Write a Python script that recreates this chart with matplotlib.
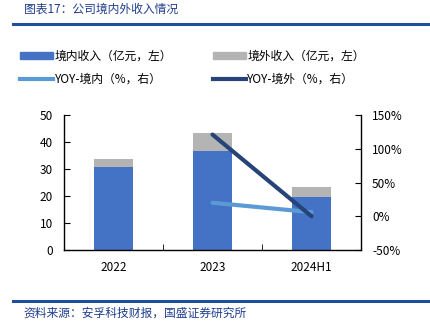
import matplotlib
matplotlib.use("Agg")
import matplotlib.pyplot as plt
from matplotlib.patches import Patch
from matplotlib.lines import Line2D

plt.rcParams['font.family'] = ['Noto Sans CJK SC', 'DejaVu Sans']

categories = ["2022", "2023", "2024H1"]
domestic_rev = [30.6, 36.7, 19.5]      # 境内收入（亿元）
overseas_rev = [3.1, 6.5, 3.7]         # 境外收入（亿元）
yoy_domestic_x = ["2023", "2024H1"]
yoy_domestic = [20, 6]                 # %
yoy_overseas = [121, 0]                # %

c_dom = "#4472C4"
c_ovs = "#B4B4B4"
c_yoy_dom = "#5B9BD5"
c_yoy_ovs = "#264478"
c_title = "#1F3E8C"

fig = plt.figure(figsize=(4.3, 3.27), dpi=100)

# header / footer
fig.text(0.055, 0.972, "图表17：公司境内外收入情况", fontsize=8.5, color=c_title,
         style="italic", va="center", ha="left")
fig.add_artist(Line2D([0.03, 0.995], [0.928, 0.928], color="#1F4E9C", lw=2.2))
fig.add_artist(Line2D([0.03, 0.995], [0.079, 0.079], color="#1F4E9C", lw=2.2))
fig.text(0.055, 0.043, "资料来源：安孚科技财报，国盛证券研究所", fontsize=8.5,
         color=c_title, style="italic", va="center", ha="left")

ax = fig.add_axes([64 / 430, 1 - 250 / 327, (361 - 64) / 430, (250 - 115) / 327])
x = range(len(categories))
w = 0.39
ax.bar(x, domestic_rev, width=w, color=c_dom, zorder=2)
ax.bar(x, overseas_rev, width=w, bottom=domestic_rev, color=c_ovs, zorder=2)
ax.set_xlim(-0.5, 2.5)
ax.set_ylim(0, 50)
ax.set_yticks(range(0, 51, 10))
ax.set_xticks(list(x))
ax.set_xticklabels(categories)
ax.set_xticks([-0.5, 0.5, 1.5, 2.5], minor=True)
ax.tick_params(axis="x", which="major", length=0, labelsize=8.5, pad=8)
ax.tick_params(axis="x", which="minor", direction="in", length=4)
ax.tick_params(axis="y", direction="in", length=4, labelsize=8.5, pad=8)
ax.spines["top"].set_visible(False)
ax.spines["right"].set_visible(False)
for s in ("left", "bottom"):
    ax.spines[s].set_linewidth(1.0)

ax2 = ax.twinx()
ax2.set_ylim(-50, 150)
ax2.set_yticks(range(-50, 151, 50))
ax2.set_yticklabels([f"{v}%" for v in range(-50, 151, 50)])
ax2.tick_params(axis="y", direction="in", length=4, labelsize=8.5, pad=8)
ax2.spines["top"].set_visible(False)
ax2.spines["left"].set_visible(False)
ax2.spines["bottom"].set_visible(False)
ax2.spines["right"].set_linewidth(1.0)
xi = [categories.index(c) for c in yoy_domestic_x]
ax2.plot(xi, yoy_domestic, color=c_yoy_dom, lw=3, solid_capstyle="round", zorder=3)
ax2.plot(xi, yoy_overseas, color=c_yoy_ovs, lw=3, solid_capstyle="round", zorder=3)

# legend filled column by column: bars on the first row, YOY lines on the second
handles = [
    Patch(color=c_dom, label="境内收入（亿元，左）"),
    Line2D([], [], color=c_yoy_dom, lw=3, label="YOY-境内（%，右）"),
    Patch(color=c_ovs, label="境外收入（亿元，左）"),
    Line2D([], [], color=c_yoy_ovs, lw=3, label="YOY-境外（%，右）"),
]
fig.legend(handles=handles, ncol=2, loc="upper left", bbox_to_anchor=(0.022, 0.88),
           frameon=False, fontsize=8.5, handlelength=2.8, handleheight=0.6,
           handletextpad=0.15, columnspacing=3.4, labelspacing=0.85)

fig.savefig("out.png", dpi=100)
